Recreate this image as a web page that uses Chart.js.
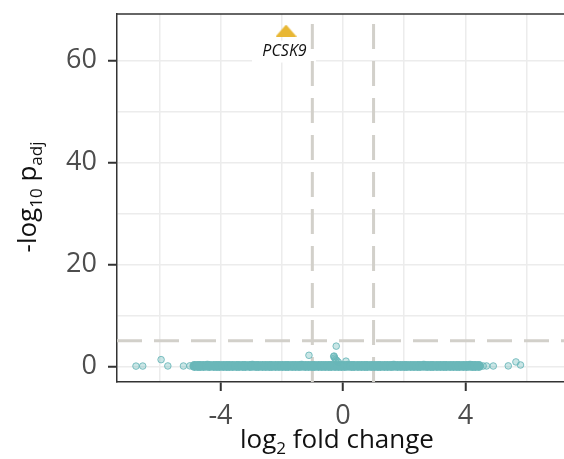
<!DOCTYPE html>
<html>
<head>
<meta charset="utf-8">
<script src="https://cdn.jsdelivr.net/npm/chart.js@4.4.0/dist/chart.umd.min.js"></script>
<style>
html, body { margin: 0; padding: 0; background: #fff; }
canvas { display: block; }
</style>
</head>
<body>
<canvas id="chart" width="564" height="459"></canvas>
<script>
// genes packed on the zero line
var bandFC = [
	-4.85,-4.74,-4.66,-4.55,-4.43,-4.35,-4.22,-4.12,-4.03,-3.91,-3.80,
	-3.71,-3.60,-3.48,-3.39,-3.27,-3.18,-3.05,-2.96,-2.84,-2.75,-2.63,
	-2.52,-2.41,-2.32,-2.20,-2.09,-1.98,-1.87,-1.78,-1.66,-1.55,-1.44,
	-1.35,-1.23,-1.12,-1.01,-0.92,-0.80,-0.69,-0.58,-0.47,-0.38,-0.26,
	-0.15,-0.05,0.06,0.17,0.28,0.37,0.49,0.60,0.71,0.80,0.92,
	1.03,1.14,1.23,1.35,1.46,1.57,1.66,1.78,1.89,2.00,2.09,
	2.21,2.32,2.43,2.52,2.64,2.75,2.86,2.95,3.07,3.18,3.29,
	3.38,3.50,3.61,3.72,3.81,3.93,4.04,4.15,4.24,4.33,4.44
];
var bandP = [
	0.05,0.07,0.04,0.06,0.08,0.05,0.07,0.04,0.06,0.05,0.04,
	0.06,0.05,0.07,0.04,0.06,0.07,0.05,0.08,0.05,0.04,0.06,
	0.06,0.04,0.07,0.05,0.04,0.07,0.05,0.06,0.07,0.04,0.06,
	0.08,0.05,0.04,0.06,0.06,0.04,0.07,0.05,0.07,0.05,0.06,
	0.07,0.06,0.04,0.08,0.05,0.06,0.04,0.06,0.07,0.04,0.05,
	0.07,0.04,0.06,0.05,0.07,0.04,0.08,0.06,0.05,0.06,0.04,
	0.06,0.07,0.04,0.05,0.08,0.04,0.06,0.05,0.07,0.04,0.06,
	0.05,0.07,0.06,0.04,0.07,0.05,0.06,0.08,0.04,0.06,0.05
];
// scattered genes away from the band
var sparseFC = [-6.76,-6.54,-5.94,-5.72,-5.21,-5.00,-0.30,-0.27,-0.24,-0.20,-0.29,-0.22,-1.11,-0.15,0.10,4.58,4.69,4.91,5.40,5.65,5.80];
var sparseP  = [0.03,0.04,1.30,0.06,0.05,0.08,1.90,1.60,1.30,1.10,2.00,3.95,2.15,0.80,1.00,0.05,0.06,0.05,0.07,0.85,0.25];
// significant gene
var hitName = 'PCSK9';
var hitFC = -1.86;
var hitP = 65.9;
// cut-offs
var fcCut = [-1, 1];
var pCut = 5;
// axis ranges and labelled ticks
var xRange = [-7.38, 7.22];
var yRange = [-3.09, 69.15];
var xLabelled = [-4, 0, 4];
var yLabelled = [0, 20, 40, 60];

var teal = 'rgba(104,182,184,';

function toPoints(xs, ys){
	return xs.map((x, i) => ({x: x, y: ys[i]}));
}

// wide golden triangle used as marker
var tri = document.createElement('canvas');
tri.width = 21;
tri.height = 12;
var tctx = tri.getContext('2d');
tctx.fillStyle = '#e8b734';
tctx.beginPath();
tctx.moveTo(10.5, 0);
tctx.lineTo(21, 12);
tctx.lineTo(0, 12);
tctx.closePath();
tctx.fill();

var dashStyle = {
	type: 'line',
	borderColor: '#d2d0ca',
	borderWidth: 3,
	borderDash: [25, 12],
	pointRadius: 0,
	fill: false,
	order: 5,
};

// text with subscripts, centred on (0, 0)
function drawParts(ctx, parts){
	var big = '26px "Open Sans"';
	var small = '17px "Open Sans"';
	var w = 0;
	parts.forEach(p => {
		ctx.font = p[1] ? small : big;
		w += ctx.measureText(p[0]).width;
	});
	var cx = -w / 2;
	ctx.textAlign = 'left';
	ctx.textBaseline = 'alphabetic';
	parts.forEach(p => {
		ctx.font = p[1] ? small : big;
		ctx.fillText(p[0], cx, p[1] ? 6 : 0);
		cx += ctx.measureText(p[0]).width;
	});
}

var decor = {
	id: 'decor',
	beforeDatasetsDraw(chart){
		// label box under the highlighted gene
		var ctx = chart.ctx;
		var px = chart.scales.x.getPixelForValue(hitFC);
		var py = chart.scales.y.getPixelForValue(hitP);
		ctx.save();
		ctx.fillStyle = '#fff';
		ctx.fillRect(px - 34, py + 10, 64, 22);
		ctx.fillStyle = '#111';
		ctx.font = 'italic 16px "Open Sans"';
		ctx.textAlign = 'center';
		ctx.textBaseline = 'middle';
		ctx.fillText(hitName, px - 1.5, py + 21);
		ctx.restore();
	},
	afterDraw(chart){
		var ctx = chart.ctx;
		var a = chart.chartArea;
		ctx.save();
		ctx.strokeStyle = '#333';
		ctx.lineWidth = 1.5;
		ctx.beginPath();
		ctx.moveTo(a.left, a.top);
		ctx.lineTo(a.right, a.top);
		ctx.stroke();

		ctx.fillStyle = '#111';
		ctx.save();
		ctx.translate(337, 448);
		drawParts(ctx, [['log', false], ['2', true], [' fold change', false]]);
		ctx.restore();

		ctx.save();
		ctx.translate(36, 197);
		ctx.rotate(-Math.PI / 2);
		drawParts(ctx, [['-log', false], ['10', true], [' p', false], ['adj', true]]);
		ctx.restore();
		ctx.restore();
	}
};

Chart.defaults.font.family = '"Open Sans"';

var chart = new Chart(document.getElementById('chart'), {
	type: 'scatter',
	data: {
		datasets: [
			Object.assign({data: [{x: fcCut[0], y: yRange[0]}, {x: fcCut[0], y: yRange[1]}]}, dashStyle),
			Object.assign({data: [{x: fcCut[1], y: yRange[0]}, {x: fcCut[1], y: yRange[1]}]}, dashStyle),
			Object.assign({data: [{x: xRange[0], y: pCut}, {x: xRange[1], y: pCut}]}, dashStyle),
			{
				data: toPoints(bandFC, bandP),
				pointRadius: 5,
				pointBackgroundColor: 'rgb(106,183,185)',
				pointBorderWidth: 0,
				order: 3,
			},
			{
				data: toPoints(sparseFC, sparseP),
				pointRadius: 3.3,
				pointBackgroundColor: teal + '0.35)',
				pointBorderColor: teal + '0.85)',
				pointBorderWidth: 1,
				order: 2,
			},
			{
				data: [{x: hitFC, y: hitP}],
				pointStyle: tri,
				order: 1,
			},
		]
	},
	options: {
		responsive: false,
		animation: false,
		layout: {autoPadding: false, padding: {top: 14, right: 0, left: 0, bottom: 0}},
		plugins: {legend: {display: false}, tooltip: {enabled: false}},
		scales: {
			x: {
				type: 'linear',
				min: xRange[0],
				max: xRange[1],
				afterFit: s => { s.height = 77; s.paddingLeft = 0; s.paddingRight = 0; },
				border: {display: true, color: '#333', width: 1.5},
				grid: {
					color: '#ececec',
					lineWidth: 1.5,
					tickLength: 9,
					tickWidth: 2,
					tickColor: c => (c.tick && xLabelled.includes(c.tick.value)) ? '#333' : 'rgba(0,0,0,0)',
				},
				ticks: {
					stepSize: 2,
					includeBounds: false,
					autoSkip: false,
					maxRotation: 0,
					padding: 9,
					color: '#4d4d4d',
					font: {size: 27},
					callback: v => xLabelled.includes(v) ? String(v) : '',
				},
			},
			y: {
				type: 'linear',
				min: yRange[0],
				max: yRange[1],
				afterFit: s => { s.width = 117; s.paddingTop = 0; s.paddingBottom = 0; },
				border: {display: true, color: '#333', width: 1.5},
				grid: {
					color: '#ececec',
					lineWidth: 1.5,
					tickLength: 9,
					tickWidth: 2,
					tickColor: c => (c.tick && yLabelled.includes(c.tick.value)) ? '#333' : 'rgba(0,0,0,0)',
				},
				ticks: {
					stepSize: 10,
					includeBounds: false,
					autoSkip: false,
					padding: 11,
					color: '#4d4d4d',
					font: {size: 27},
					callback: v => yLabelled.includes(v) ? String(v) : '',
				},
			},
		}
	},
	plugins: [decor]
});
</script>
</body>
</html>
